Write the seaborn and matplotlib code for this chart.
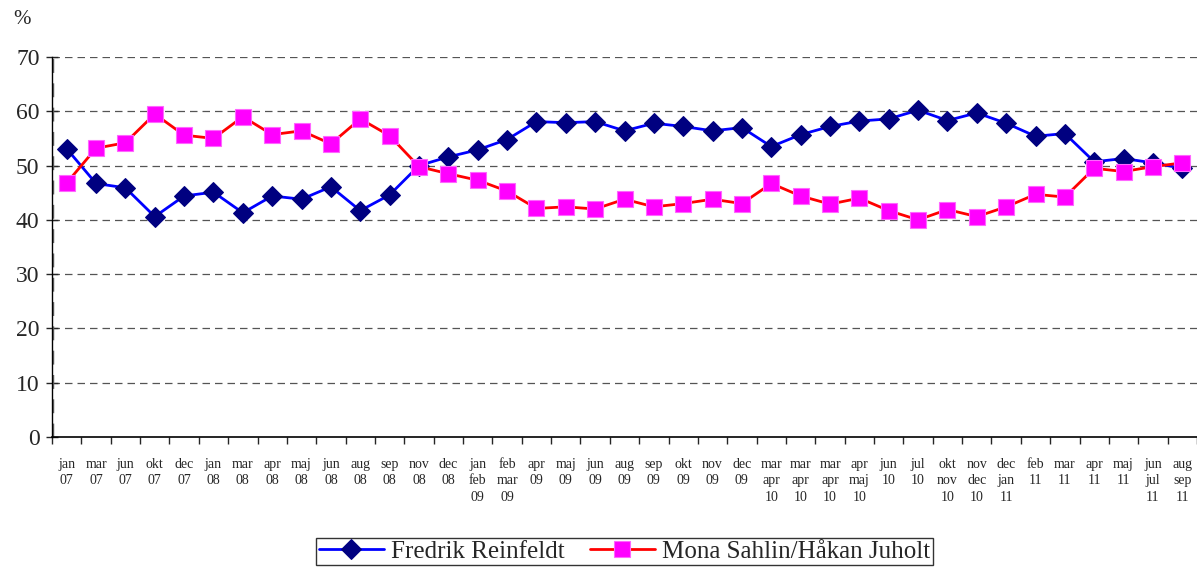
import numpy as np
import pandas as pd
import seaborn as sns
import matplotlib.pyplot as plt
from matplotlib.ticker import MultipleLocator, FixedLocator

# tick labels (month / year of each measurement)
months = [
    "jan\n07", "mar\n07", "jun\n07", "okt\n07", "dec\n07",
    "jan\n08", "mar\n08", "apr\n08", "maj\n08", "jun\n08", "aug\n08", "sep\n08", "nov\n08", "dec\n08",
    "jan\nfeb\n09", "feb\nmar\n09", "apr\n09", "maj\n09", "jun\n09", "aug\n09", "sep\n09", "okt\n09",
    "nov\n09", "dec\n09",
    "mar\napr\n10", "mar\napr\n10", "mar\napr\n10", "apr\nmaj\n10", "jun\n10", "jul\n10",
    "okt\nnov\n10", "nov\ndec\n10", "dec\njan\n11",
    "feb\n11", "mar\n11", "apr\n11", "maj\n11", "jun\njul\n11", "aug\nsep\n11",
]

reinfeldt = [
    53.1, 46.7, 45.9, 40.6, 44.4, 45.1, 41.3, 44.4, 43.8, 46.1, 41.7, 44.6, 50.0, 51.6,
    52.9, 54.8, 58.1, 57.9, 58.1, 56.4, 57.8, 57.2, 56.4, 57.0,
    53.5, 55.7, 57.2, 58.2, 58.6, 60.2, 58.3, 59.7, 57.8,
    55.4, 55.9, 50.7, 51.3, 50.5, 49.5,
]

sahlin_juholt = [
    46.8, 53.2, 54.2, 59.5, 55.6, 55.0, 59.0, 55.7, 56.4, 54.0, 58.6, 55.5, 49.8, 48.5,
    47.3, 45.3, 42.1, 42.4, 42.0, 43.8, 42.4, 43.0, 43.8, 43.0,
    46.7, 44.4, 42.9, 44.0, 41.7, 40.0, 41.9, 40.6, 42.4,
    44.7, 44.2, 49.5, 48.9, 49.8, 50.5,
]

names = ["Fredrik Reinfeldt", "Mona Sahlin/Håkan Juholt"]

df = pd.DataFrame({
    "pos": list(range(len(months))) * 2,
    "value": reinfeldt + sahlin_juholt,
    "who": [names[0]] * len(months) + [names[1]] * len(months),
})

sns.set_style("white")
plt.rcParams['font.family'] = ['Liberation Serif', 'DejaVu Serif']

fig = plt.figure(figsize=(11.97, 5.68), dpi=100)
ax = fig.add_axes([52 / 1197, 1 - 437 / 568, 1 - 52 / 1197, 380 / 568])

# dashed horizontal grid
for v in range(10, 80, 10):
    ax.axhline(v, color='#555555', linestyle=(0, (6, 4)), linewidth=0.9, zorder=0)

sns.lineplot(
    data=df[df["who"] == names[0]], x="pos", y="value", ax=ax,
    color='#0000FF', linewidth=2, marker='D', markersize=10,
    markerfacecolor='#000080', markeredgecolor='#000080', label=names[0], zorder=3,
)
sns.lineplot(
    data=df[df["who"] == names[1]], x="pos", y="value", ax=ax,
    color='#FF0000', linewidth=2, marker='s', markersize=12,
    markerfacecolor='#FF00FF', markeredgecolor='#FF66FF', markeredgewidth=0.8,
    label=names[1], zorder=4,
)

ax.set_xlim(-0.5, len(months) - 0.5)
ax.set_ylim(0, 70)
ax.set_xlabel("")
ax.set_ylabel("")

# y axis
ax.yaxis.set_major_locator(MultipleLocator(10))
ax.tick_params(axis='y', direction='inout', length=8, width=1, labelsize=17, left=True, pad=5)
ax.axvline(-0.5, color='#666666', linestyle=(0, (4, 3)), linewidth=2.5, zorder=1)

# x axis: labels at category centres, ticks at boundaries
ax.set_xticks(range(len(months)))
ax.set_xticklabels(months, fontsize=10, linespacing=1.35, va='top')
ax.xaxis.set_minor_locator(FixedLocator(np.arange(-0.5, len(months), 1)))
ax.tick_params(axis='x', which='major', length=0, pad=15)
ax.tick_params(axis='x', which='minor', direction='out', length=5, width=1, bottom=True)

for side in ['top', 'right']:
    ax.spines[side].set_visible(False)
ax.spines['left'].set_color('black')
ax.spines['left'].set_linewidth(1)
ax.spines['bottom'].set_color('black')
ax.spines['bottom'].set_linewidth(1.2)

fig.text(13 / 1197, 1 - 20 / 568, "%", fontsize=15, va='center', ha='left')

leg = ax.legend(loc='upper center', bbox_to_anchor=(0.5, -0.232), ncol=2, fontsize=18,
                frameon=True, fancybox=False, edgecolor='black', handlelength=2.6,
                handletextpad=0.3, columnspacing=1.0, borderpad=0.1)
leg.get_frame().set_linewidth(1)

fig.savefig("out.png", dpi=100)
